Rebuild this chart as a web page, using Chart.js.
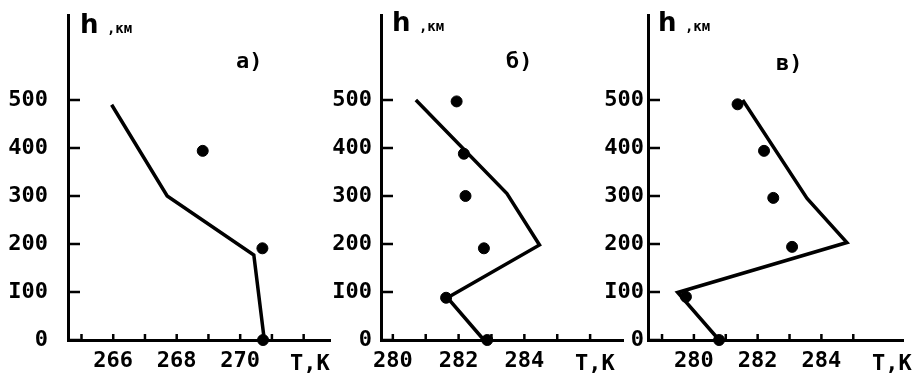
<!DOCTYPE html>
<html>
<head>
<meta charset="utf-8">
<script src="https://cdn.jsdelivr.net/npm/chart.js@4/dist/chart.umd.min.js"></script>
<style>
    html, body { margin: 0; padding: 0; background: #fff; }
    #wrap { position: relative; width: 915px; height: 386px; overflow: hidden; }
    #wrap canvas { position: absolute; left: 0; top: 0; }
    .lbl { position: absolute; font-family: "DejaVu Sans Mono", monospace; font-weight: bold; color: #000; line-height: 1; white-space: pre; }
    .big { font-size: 26px; font-family: "DejaVu Sans", sans-serif; }
    .small { font-size: 14px; }
</style>
</head>
<body>
<div id="wrap">
    <canvas id="chart-a" width="915" height="386"></canvas>
    <canvas id="chart-b" width="915" height="386"></canvas>
    <canvas id="chart-c" width="915" height="386"></canvas>

    <div class="lbl" style="left:80px; top:11px;"><span class="big">h</span><span class="small"> ,км</span></div>
    <div class="lbl" style="left:392px; top:9px;"><span class="big">h</span><span class="small"> ,км</span></div>
    <div class="lbl" style="left:658px; top:9px;"><span class="big">h</span><span class="small"> ,км</span></div>

    <div class="lbl" style="left:236px; top:50px; font-size:22px;">а)</div>
    <div class="lbl" style="left:506px; top:50px; font-size:22px;">б)</div>
    <div class="lbl" style="left:776px; top:52px; font-size:22px;">в)</div>

    <div class="lbl" style="left:290px; top:352px; font-size:22px;">T,K</div>
    <div class="lbl" style="left:575px; top:352px; font-size:22px;">T,K</div>
    <div class="lbl" style="left:872px; top:352px; font-size:22px;">T,K</div>
</div>

<script>
    "use strict";

    // Heights (km) ticks, shared by all panels
    var hTicks = [0, 100, 200, 300, 400, 500];

    // Panel a
    var lineTempA = [265.95, 267.7, 270.43, 270.76];
    var lineHA = [490, 300, 177, 0];
    var dotTempA = [268.82, 270.7, 270.72];
    var dotHA = [394, 191, 0];
    var xTicksA = [265, 266, 267, 268, 269, 270, 271, 272];
    var xLabelsA = [266, 268, 270];

    // Panel b
    var lineTempB = [280.7, 283.47, 284.46, 281.66, 282.77];
    var lineHB = [500, 305, 198, 88, 0];
    var dotTempB = [281.94, 282.16, 282.21, 282.77, 281.62, 282.87];
    var dotHB = [497, 388, 300, 191, 88, 0];
    var xTicksB = [280, 281, 282, 283, 284, 285, 286];
    var xLabelsB = [280, 282, 284];

    // Panel c
    var lineTempC = [281.53, 283.55, 284.8, 279.49, 280.79];
    var lineHC = [500, 295, 203, 99, 0];
    var dotTempC = [281.37, 282.2, 282.49, 283.08, 279.75, 280.79];
    var dotHC = [491, 394, 296, 194, 90, 0];
    var xTicksC = [279, 280, 281, 282, 283, 284, 285];
    var xLabelsC = [280, 282, 284];

    var tickFont = { family: "DejaVu Sans Mono", size: 22, weight: "bold" };

    function toPoints(xs, ys) {
        return xs.map(function (x, i) { return { x: x, y: ys[i] }; });
    }

    // Short tick marks drawn inside the axes
    var innerTicks = {
        id: "innerTicks",
        afterDraw: function (chart) {
            var ctx = chart.ctx;
            var xs = chart.scales.x, ys = chart.scales.y;
            var area = chart.chartArea;
            ctx.save();
            ctx.strokeStyle = "#000";
            ctx.lineWidth = 2.5;
            ctx.beginPath();
            ys.ticks.forEach(function (t) {
                var py = ys.getPixelForValue(t.value);
                ctx.moveTo(area.left, py);
                ctx.lineTo(area.left + 12, py);
            });
            xs.ticks.forEach(function (t) {
                var px = xs.getPixelForValue(t.value);
                ctx.moveTo(px, area.bottom);
                ctx.lineTo(px, area.bottom - 6);
            });
            ctx.stroke();
            ctx.restore();
        }
    };

    function makePanel(id, o) {
        var ctx = document.getElementById(id).getContext("2d");
        return new Chart(ctx, {
            type: "scatter",
            data: {
                datasets: [{
                    data: toPoints(o.lineT, o.lineH),
                    showLine: true,
                    borderColor: "#000",
                    borderWidth: 3.5,
                    pointRadius: 0,
                    clip: false
                },
                {
                    data: toPoints(o.dotT, o.dotH),
                    showLine: false,
                    backgroundColor: "#000",
                    borderColor: "#000",
                    pointRadius: 5.5,
                    clip: false
                }]
            },
            options: {
                responsive: false,
                animation: false,
                events: [],
                layout: {
                    padding: { left: o.left - 60, right: 915 - o.right, top: 15, bottom: 6 }
                },
                plugins: { legend: { display: false }, tooltip: { enabled: false } },
                scales: {
                    x: {
                        type: "linear",
                        min: o.xMin,
                        max: o.xMax,
                        afterBuildTicks: function (s) {
                            s.ticks = o.xTicks.map(function (v) { return { value: v }; });
                        },
                        afterFit: function (s) {
                            s.height = 40;
                            s.paddingLeft = 0;
                            s.paddingRight = 0;
                        },
                        grid: { display: false, drawTicks: false },
                        border: { display: true, color: "#000", width: 3 },
                        ticks: {
                            color: "#000",
                            font: tickFont,
                            padding: 8,
                            maxRotation: 0,
                            autoSkip: false,
                            callback: function (v) { return o.xLabels.indexOf(v) >= 0 ? String(v) : ""; }
                        }
                    },
                    y: {
                        type: "linear",
                        min: 0,
                        max: 677,
                        afterBuildTicks: function (s) {
                            s.ticks = hTicks.map(function (v) { return { value: v }; });
                        },
                        afterFit: function (s) {
                            s.width = 60;
                            s.paddingTop = 0;
                            s.paddingBottom = 0;
                        },
                        grid: { display: false, drawTicks: false },
                        border: { display: true, color: "#000", width: 3 },
                        ticks: {
                            color: "#000",
                            font: tickFont,
                            padding: o.labelPad,
                            autoSkip: false,
                            callback: function (v) { return v === 100 ? "I00" : String(v); }
                        }
                    }
                }
            },
            plugins: [innerTicks]
        });
    }

    // Panel a chart
    makePanel("chart-a", {
        lineT: lineTempA, lineH: lineHA, dotT: dotTempA, dotH: dotHA,
        xTicks: xTicksA, xLabels: xLabelsA,
        xMin: 264.575, xMax: 272.83, left: 68, right: 330, labelPad: 20
    });

    // Panel b chart
    makePanel("chart-b", {
        lineT: lineTempB, lineH: lineHB, dotT: dotTempB, dotH: dotHB,
        xTicks: xTicksB, xLabels: xLabelsB,
        xMin: 279.64, xMax: 287.0, left: 381, right: 623, labelPad: 9
    });

    // Panel c chart
    makePanel("chart-c", {
        lineT: lineTempC, lineH: lineHC, dotT: dotTempC, dotH: dotHC,
        xTicks: xTicksC, xLabels: xLabelsC,
        xMin: 278.56, xMax: 286.56, left: 648, right: 903, labelPad: 4
    });
</script>
</body>
</html>
